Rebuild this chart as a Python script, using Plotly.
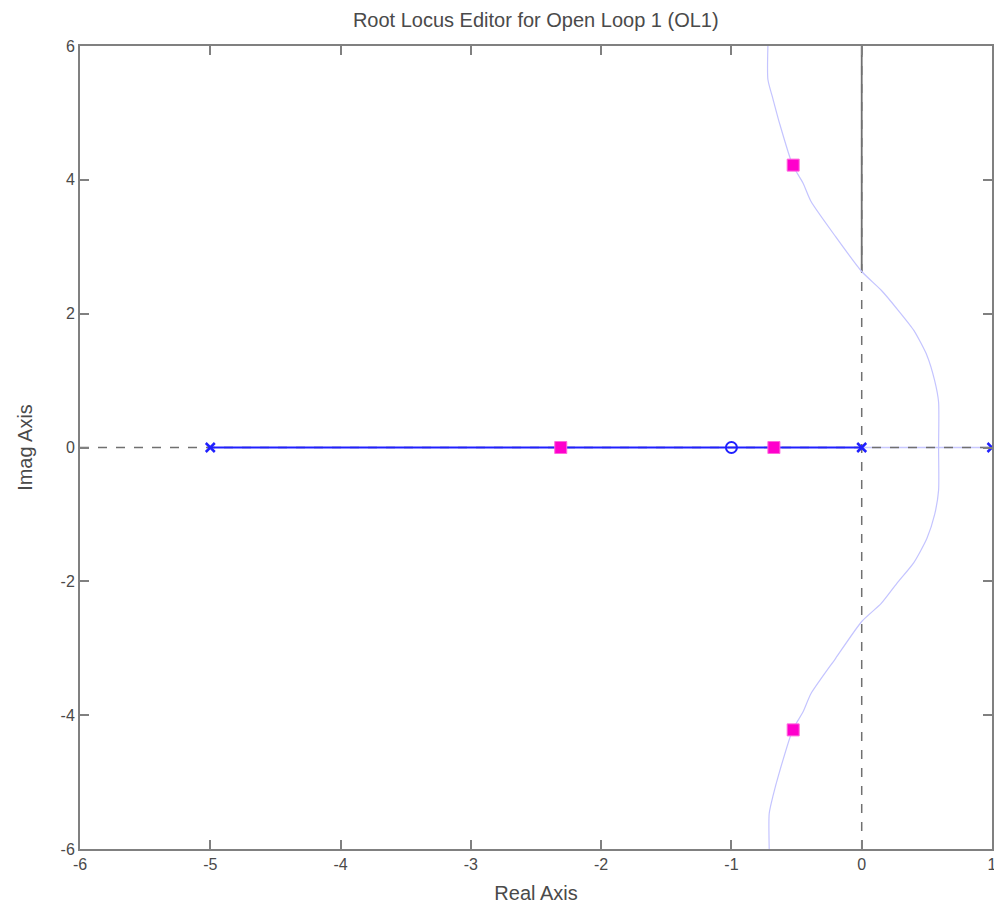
import plotly.graph_objects as go

# ---- data ----
x_range = [-6, 1]
y_range = [-6, 6]
x_ticks = [-6, -5, -4, -3, -2, -1, 0, 1]
y_ticks = [-6, -4, -2, 0, 2, 4, 6]

# complex-branch locus (light curve), top to bottom
locus_x = [-0.72, -0.72, -0.68, -0.63, -0.53, -0.45, -0.39, -0.2, 0.0, 0.15, 0.28, 0.40, 0.50, 0.56, 0.59, 0.59, 0.59,
           0.56, 0.50, 0.40, 0.27, 0.15, 0.0, -0.2, -0.39, -0.45, -0.53, -0.63, -0.68, -0.71, -0.71]
locus_y = [6.0, 5.5, 5.2, 4.84, 4.22, 3.95, 3.68, 3.15, 2.63, 2.35, 2.05, 1.75, 1.38, 1.0, 0.68, 0.0, -0.64,
           -1.0, -1.36, -1.72, -2.03, -2.33, -2.6, -3.15, -3.68, -3.95, -4.22, -4.84, -5.2, -5.47, -6.0]

# real-axis locus segments
real_seg_x = [-5, 0]
real_seg2_x = [0, 1]

# open-loop poles and zeros
pole_x = [-5, 0, 1]
pole_y = [0, 0, 0]
zero_x = [-1]
zero_y = [0]

# closed-loop poles (magenta squares)
cl_x = [-2.31, -0.674, -0.526, -0.526]
cl_y = [0, 0, 4.22, -4.22]

# solid part of imaginary axis (above the crossing)
imag_solid_y = [2.63, 6]

grey = "#808080"
txt = "#4a4a4a"
font_fam = "Liberation Sans Narrow, Arial Narrow, Liberation Sans, Arial, sans-serif"

fig = go.Figure()

fig.add_trace(go.Scatter(x=real_seg2_x, y=[0, 0], mode="lines",
                         line=dict(color="#c8c8ff", width=1.5), hoverinfo="skip"))
fig.add_trace(go.Scatter(x=x_range, y=[0, 0], mode="lines",
                         line=dict(color="#707070", width=1.5, dash="dash"), hoverinfo="skip"))
fig.add_trace(go.Scatter(x=[0, 0], y=y_range, mode="lines",
                         line=dict(color="#707070", width=1.5, dash="dash"), hoverinfo="skip"))
fig.add_trace(go.Scatter(x=[0, 0], y=imag_solid_y, mode="lines",
                         line=dict(color="#707070", width=1.8), hoverinfo="skip"))
fig.add_trace(go.Scatter(x=locus_x, y=locus_y, mode="lines",
                         line=dict(color="#c4c4ff", width=1.2, shape="spline", smoothing=0.6),
                         hoverinfo="skip"))
fig.add_trace(go.Scatter(x=real_seg_x, y=[0, 0], mode="lines",
                         line=dict(color="#2020ff", width=2.2), hoverinfo="skip"))
fig.add_trace(go.Scatter(x=pole_x, y=pole_y, mode="markers",
                         marker=dict(symbol="x-thin", size=9, color="#2020ff",
                                     line=dict(color="#2020ff", width=2.5))))
fig.add_trace(go.Scatter(x=zero_x, y=zero_y, mode="markers",
                         marker=dict(symbol="circle-open", size=11, color="#2020ff",
                                     line=dict(color="#2020ff", width=2))))
fig.add_trace(go.Scatter(x=cl_x, y=cl_y, mode="markers",
                         marker=dict(symbol="square", size=12, color="#ff00cc",
                                     line=dict(color="#ff66dd", width=1))))

axis_common = dict(showline=True, linecolor=grey, linewidth=2, mirror="ticks",
                   ticks="inside", ticklen=9, tickcolor=grey, tickwidth=2,
                   showgrid=False, zeroline=False, automargin=False,
                   tickfont=dict(family=font_fam, size=16, color=txt))

fig.update_xaxes(range=x_range, tickvals=x_ticks, ticktext=[str(v) for v in x_ticks],
                 ticklabeloverflow="allow",
                 title=dict(text="Real Axis", font=dict(family=font_fam, size=20, color=txt), standoff=15),
                 **axis_common)
fig.update_yaxes(range=y_range, tickvals=y_ticks, ticktext=[str(v) for v in y_ticks],
                 title=dict(text="Imag Axis", font=dict(family=font_fam, size=20, color=txt), standoff=23),
                 **axis_common)

fig.update_layout(
    width=994, height=904,
    margin=dict(l=80, r=2, t=46, b=55),
    paper_bgcolor="white", plot_bgcolor="white",
    showlegend=False,
    title=dict(text="Root Locus Editor for Open Loop 1 (OL1)", x=0.539, xanchor="center",
               y=0.978, yanchor="middle",
               font=dict(family=font_fam, size=20, color=txt)),
)

fig.write_html("out.html")
